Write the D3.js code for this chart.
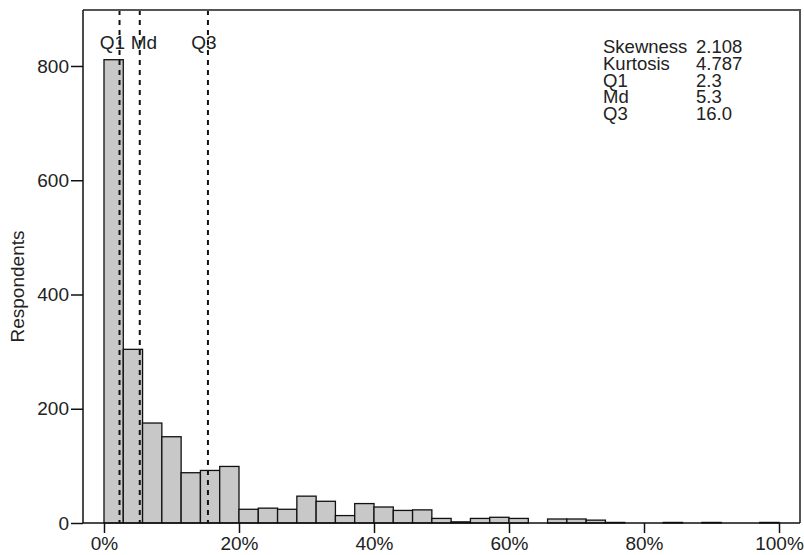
<!DOCTYPE html>
<html>
<head>
<meta charset="utf-8">
<script src="https://cdn.jsdelivr.net/npm/d3@7"></script>
<style>
  body { margin: 0; background: #fff; }
  svg text { font-family: "Liberation Sans", Arial, sans-serif; fill: #222; }
</style>
</head>
<body>
<svg id="chart" width="804" height="555"></svg>
<script>
// histogram counts, 35 equal bins over 0-100%
const binCount = 35
const counts = [811, 304, 175, 151, 88, 92, 99, 24, 26, 24, 47, 38, 13, 34, 28, 22, 23, 8, 2, 8,
                10, 8, 0, 7, 7, 5, 1, 0, 0, 1, 0, 1, 0, 0, 1]

const xTicks = [0, 20, 40, 60, 80, 100]
const yTicks = [0, 200, 400, 600, 800]

// dashed quartile markers
const markerNames = ['Q1', 'Md', 'Q3']
const markerPos = [2.3, 5.3, 15.4]

// summary box
const statNames = ['Skewness', 'Kurtosis', 'Q1', 'Md', 'Q3']
const statValues = ['2.108', '4.787', '2.3', '5.3', '16.0']

const svg = d3.select('#chart')
const plotLeft = 83, plotRight = 800, plotTop = 10, plotBottom = 523

const x = d3.scaleLinear().domain([-3.11, 103.11]).range([plotLeft, plotRight])
const y = d3.scaleLinear().domain([0, 898]).range([plotBottom, plotTop])
const binW = 100 / binCount

// bars
svg.append('g')
    .selectAll('rect')
    .data(counts)
    .enter()
    .append('rect')
    .attr('x', (d, i) => x(i * binW))
    .attr('width', x(binW) - x(0))
    .attr('y', d => y(d))
    .attr('height', d => y(0) - y(d))
    .attr('fill', '#c8c8c8')
    .attr('stroke', d => d > 0 ? '#111' : 'none')
    .attr('stroke-width', 1.3)

// quartile lines
svg.append('g')
    .selectAll('line')
    .data(markerPos)
    .enter()
    .append('line')
    .attr('x1', d => x(d)).attr('x2', d => x(d))
    .attr('y1', plotTop).attr('y2', plotBottom)
    .attr('stroke', '#111')
    .attr('stroke-width', 2)
    .attr('stroke-dasharray', '5,5')

svg.append('g')
    .selectAll('text')
    .data(markerNames)
    .enter()
    .append('text')
    .attr('x', (d, i) => x(markerPos[i]) + (d === 'Md' ? -9 : (d === 'Q1' ? -7 : -4)))
    .attr('y', 49)
    .attr('text-anchor', (d) => d === 'Md' ? 'start' : 'middle')
    .attr('font-size', 19)
    .text(d => d)

// frame: top and right edges are a grey box line
svg.append('path')
    .attr('d', `M${plotLeft},${plotTop}H${plotRight}V${plotBottom}`)
    .attr('fill', 'none')
    .attr('stroke', '#555')
    .attr('stroke-width', 2)
svg.append('path')
    .attr('d', `M${plotLeft},${plotTop}V${plotBottom}H${plotRight}`)
    .attr('fill', 'none')
    .attr('stroke', '#111')
    .attr('stroke-width', 1.5)

// axes
const xAxis = d3.axisBottom(x).tickValues(xTicks).tickSize(10).tickPadding(4)
    .tickFormat(d => d + '%')
const gx = svg.append('g').attr('transform', `translate(0,${plotBottom})`).call(xAxis)
gx.select('.domain').remove()
gx.selectAll('line').attr('stroke', '#111').attr('stroke-width', 1.5)
gx.selectAll('text').attr('font-size', 19).attr('font-family', '"Liberation Sans", Arial, sans-serif').attr('fill', '#222')

const yAxis = d3.axisLeft(y).tickValues(yTicks).tickSize(12).tickPadding(2)
const gy = svg.append('g').attr('transform', `translate(${plotLeft},0)`).call(yAxis)
gy.select('.domain').remove()
gy.selectAll('line').attr('stroke', '#111').attr('stroke-width', 1.5)
gy.selectAll('text').attr('font-size', 19).attr('font-family', '"Liberation Sans", Arial, sans-serif').attr('fill', '#222')

svg.append('text')
    .attr('transform', `translate(24,${(plotTop + plotBottom) / 2 + 20}) rotate(-90)`)
    .attr('text-anchor', 'middle')
    .attr('font-size', 19)
    .text('Respondents')

// stats box
const stats = svg.append('g')
statNames.forEach((name, i) => {
    stats.append('text').attr('x', 603).attr('y', 53 + i * 16.8).attr('font-size', 18.5).text(name)
    stats.append('text').attr('x', 696).attr('y', 53 + i * 16.8).attr('font-size', 18.5).text(statValues[i])
})
</script>
</body>
</html>
